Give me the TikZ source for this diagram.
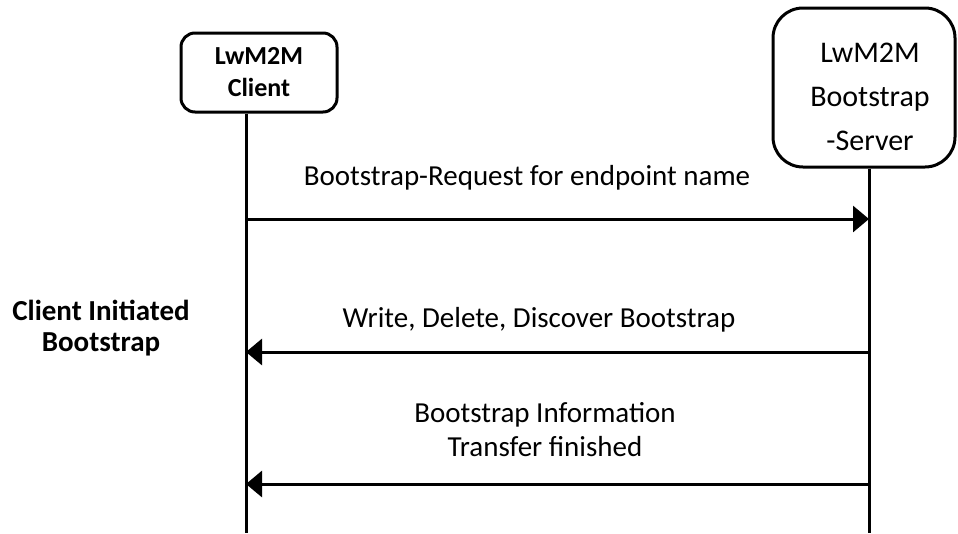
\documentclass[tikz,border=0pt]{standalone}
\usepackage{fontspec}
\setmainfont{Carlito}
\usetikzlibrary{arrows.meta}
\begin{document}
\begin{tikzpicture}[x=1pt,y=-1pt,
  box/.style={draw=black,line width=3pt,fill=white,align=center,inner sep=0pt},
  life/.style={draw=black,line width=3pt},
  msg/.style={draw=black,line width=3pt,-{Triangle[length=16pt,width=26pt]}},
  lbl/.style={font=\fontsize{29}{34}\selectfont,align=center,inner sep=0pt}]
\useasboundingbox (0,0) rectangle (958,533);
% lifeline ends
\coordinate (cend) at (246,533);
\coordinate (send) at (869,533);
% boxes
\node[box,rounded corners=14pt,minimum width=156pt,minimum height=79pt,
  font=\bfseries\fontsize{26}{32}\selectfont] (client) at (259,72.5) {LwM2M\\Client};
\node[box,rounded corners=30pt,minimum width=182pt,minimum height=159pt] (server) at (864,87.5) {};
\node[font=\fontsize{30}{44}\selectfont,align=center,inner sep=0pt] (servertext) at (870,96.5) {LwM2M\\Bootstrap\\-Server};
% lifelines
\draw[life] (client.south -| cend) -- (cend);
\draw[life] (server.south -| send) -- (send);
% message points
\coordinate (c1) at (246,219); \coordinate (s1) at (869,219);
\coordinate (c2) at (246,352); \coordinate (s2) at (869,352);
\coordinate (c3) at (246,484); \coordinate (s3) at (869,484);
\draw[msg] (c1) -- (s1);
\draw[msg] (s2) -- (c2);
\draw[msg] (s3) -- (c3);
% labels
\node[lbl,anchor=base] (l1) at (527,185) {Bootstrap-Request for endpoint name};
\node[lbl,anchor=base] (l2) at (539,327) {Write, Delete, Discover Bootstrap};
\node[lbl] (l3) at (545,430) {Bootstrap Information\\Transfer finished};
\node[lbl,font=\bfseries\fontsize{29}{31}\selectfont] (side) at (101,328) {Client Initiated\\Bootstrap};
\end{tikzpicture}
\end{document}
